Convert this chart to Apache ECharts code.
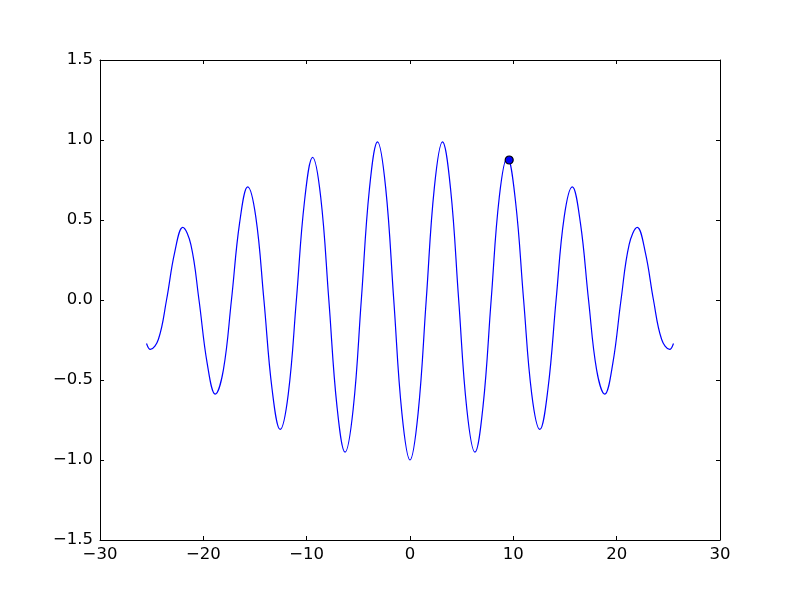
<!DOCTYPE html>
<html>
<head>
<meta charset="utf-8">
<script src="https://cdn.jsdelivr.net/npm/echarts@6/dist/echarts.min.js"></script>
<style>html,body{margin:0;padding:0;background:#fff}#c{width:800px;height:600px}</style>
</head>
<body>
<div id="c"></div>
<script>
// Curve samples (x, y), positive half; the curve is mirror-symmetric
const curveX = [0, 0.785, 1.571, 2.356, 3.142, 3.927, 4.712, 5.498, 6.283, 7.069, 7.854, 8.639, 9.425, 10.21, 10.996, 11.781, 12.566, 13.352, 14.137, 14.923, 15.708, 16.493, 17.279, 18.064, 18.850, 19.635, 20.420, 21.206, 21.991, 22.777, 23.562, 24.347, 25.133, 25.5];
const curveY = [-1, -0.707, 0, 0.702, 0.988, 0.694, 0, -0.681, -0.951, -0.663, 0, 0.642, 0.891, 0.617, 0, -0.588, -0.809, -0.555, 0, 0.519, 0.707, 0.480, 0, -0.438, -0.588, -0.393, 0, 0.346, 0.454, 0.296, 0, -0.245, -0.309, -0.272];
const markerPoint = [9.6, 0.875];
const xTicks = [-30, -20, -10, 0, 10, 20, 30];
const yTicks = [-1.5, -1.0, -0.5, 0.0, 0.5, 1.0, 1.5];

const pts = [];
for (let i = curveX.length - 1; i > 0; i--) pts.push([-curveX[i], curveY[i]]);
for (let i = 0; i < curveX.length; i++) pts.push([curveX[i], curveY[i]]);

const fmtX = v => (v < 0 ? '\u2212' : '') + Math.abs(v).toFixed(0);
const fmtY = v => (v < 0 ? '\u2212' : '') + Math.abs(v).toFixed(1);
const font = {fontFamily: 'DejaVu Sans', fontSize: 16.5, color: '#000'};

const axisCommon = {
  axisLine: {show: true, onZero: false, lineStyle: {color: '#000', width: 1}},
  axisTick: {show: true, inside: true, length: 4, lineStyle: {color: '#000'}},
  splitLine: {show: false}
};

const chart = echarts.init(document.getElementById('c'), null, {renderer: 'canvas'});
chart.setOption({
  animation: false,
  backgroundColor: '#fff',
  grid: {left: 100, right: 80, top: 60, bottom: 60, containLabel: false},
  xAxis: [
    Object.assign({type: 'value', min: xTicks[0], max: xTicks[xTicks.length-1], interval: 10, position: 'bottom',
      axisLabel: Object.assign({formatter: fmtX, margin: 6}, font)}, axisCommon),
    Object.assign({type: 'value', min: xTicks[0], max: xTicks[xTicks.length-1], interval: 10, position: 'top',
      axisLabel: {show: false}}, axisCommon)
  ],
  yAxis: [
    Object.assign({type: 'value', min: yTicks[0], max: yTicks[yTicks.length-1], interval: 0.5, position: 'left',
      axisLabel: Object.assign({formatter: fmtY, margin: 7}, font)}, axisCommon),
    Object.assign({type: 'value', min: yTicks[0], max: yTicks[yTicks.length-1], interval: 0.5, position: 'right',
      axisLabel: {show: false}}, axisCommon)
  ],
  series: [
    {type: 'line', data: pts, smooth: 0.4, showSymbol: false, symbol: 'none',
     lineStyle: {color: '#0000ff', width: 1.2}, xAxisIndex: 0, yAxisIndex: 0},
    {type: 'scatter', data: [markerPoint], symbol: 'circle', symbolSize: 8,
     itemStyle: {color: '#0000ff', borderColor: '#000', borderWidth: 1.2, opacity: 1}, xAxisIndex: 0, yAxisIndex: 0, z: 5}
  ]
});
</script>
</body>
</html>
